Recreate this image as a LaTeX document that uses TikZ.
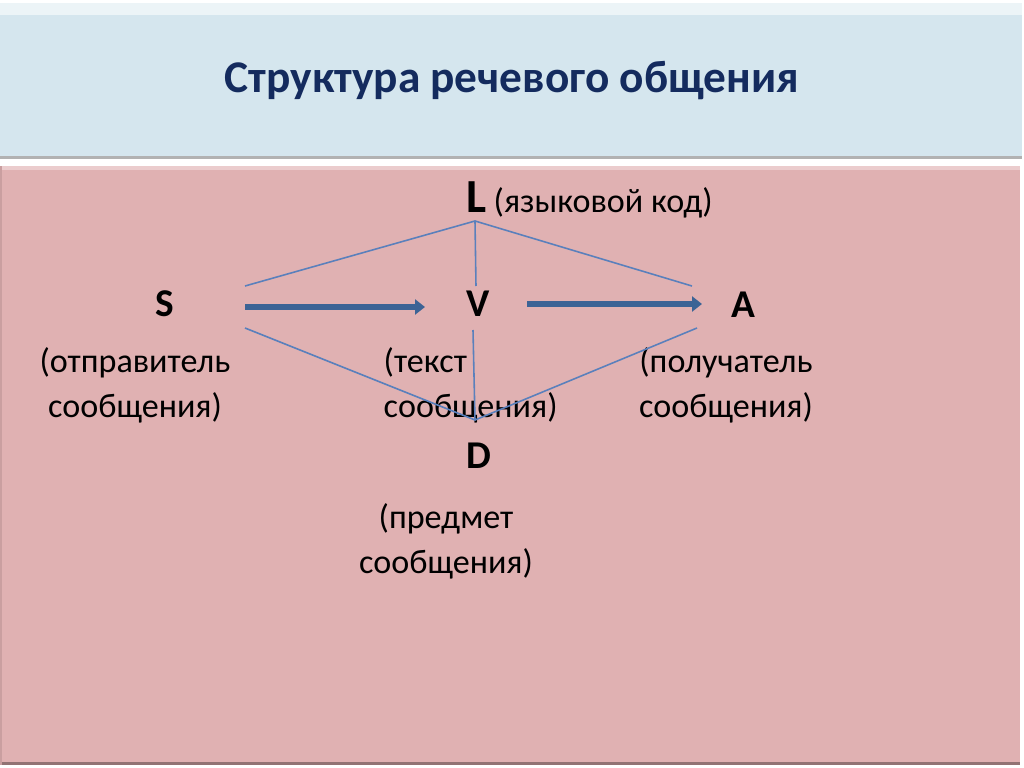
\documentclass[tikz,border=0pt]{standalone}
\usepackage{fontspec}
\setmainfont{Carlito}
\usetikzlibrary{arrows.meta}
\definecolor{titlebg}{HTML}{D5E6EE}
\definecolor{bodybg}{HTML}{E0B1B2}
\definecolor{titleblue}{HTML}{142B5E}
\definecolor{linkblue}{HTML}{5A80BC}
\definecolor{flowblue}{HTML}{3C6395}

\begin{document}
\begin{tikzpicture}[
  letter/.style={font=\fontsize{11.2pt}{13pt}\selectfont\bfseries, inner sep=0},
  caption/.style={font=\fontsize{9.7pt}{12.9pt}\selectfont, inner sep=0, align=center},
  link/.style={linkblue, line width=0.45pt},
  flow/.style={flowblue, line width=1.6pt, -{Triangle[length=1mm,width=1.5mm]}}
]
\useasboundingbox (0,0) rectangle (10.24,7.67);
\fill[white] (0,0) rectangle (10.24,7.67);
\fill[titlebg] (0,6.10) rectangle (10.22,7.64);
\fill[white!55!titlebg] (0,7.52) rectangle (10.22,7.64);
\fill[black!30] (0,6.08) rectangle (10.22,6.11);
\fill[bodybg] (0,0.02) rectangle (10.20,6.01);
\fill[white!35!bodybg] (0,5.97) rectangle (10.20,6.01);
\fill[black!35!bodybg] (0,0.02) rectangle (10.20,0.05);
\fill[black!10!bodybg] (0,0.02) rectangle (0.02,6.01);

\node[font=\fontsize{12.9pt}{15pt}\selectfont\bfseries, text=titleblue] (title) at (5.12,6.86) {Структура речевого общения};

\node[letter, anchor=base west, font=\fontsize{13.5pt}{15pt}\selectfont\bfseries] (L) at (4.66,5.55) {L};
\node[caption, anchor=base west] (code) at (4.93,5.55) {(языковой код)};
\node[letter, anchor=base] (S) at (1.65,4.51) {S};
\node[letter, anchor=base] (V) at (4.78,4.51) {V};
\node[letter, anchor=base] (A) at (7.43,4.50) {A};
\node[letter, anchor=base] (D) at (4.79,2.99) {D};

\node[caption, anchor=north] (sender) at (1.35,4.20) {(отправитель\\сообщения)};
\node[caption, anchor=north west, align=left] (text) at (3.83,4.20) {(текст\\сообщения)};
\node[caption, anchor=north] (receiver) at (7.26,4.20) {(получатель\\сообщения)};
\node[caption, anchor=north] (subject) at (4.46,2.64) {(предмет\\сообщения)};

\coordinate (Ltip) at (4.75,5.46);
\coordinate (Dtip) at (4.75,3.47);
\coordinate (Sup) at (2.45,4.81);
\coordinate (Sdown) at (2.45,4.39);
\coordinate (Vup) at (4.76,4.81);
\coordinate (Vdown) at (4.73,4.37);
\coordinate (Aup) at (6.92,4.81);
\coordinate (Adown) at (6.97,4.39);
\coordinate (Sout) at (2.45,4.60);
\coordinate (Vin) at (4.25,4.60);
\coordinate (Vout) at (5.27,4.63);
\coordinate (Ain) at (7.02,4.63);

\draw[link] (Sup) -- (Ltip) -- (Aup);
\draw[link] (Ltip) -- (Vup);
\draw[link] (Sdown) -- (Dtip) -- (Adown);
\draw[link] (Vdown) -- (Dtip);
\draw[flow] (Sout) -- (Vin);
\draw[flow] (Vout) -- (Ain);
\end{tikzpicture}
\end{document}
